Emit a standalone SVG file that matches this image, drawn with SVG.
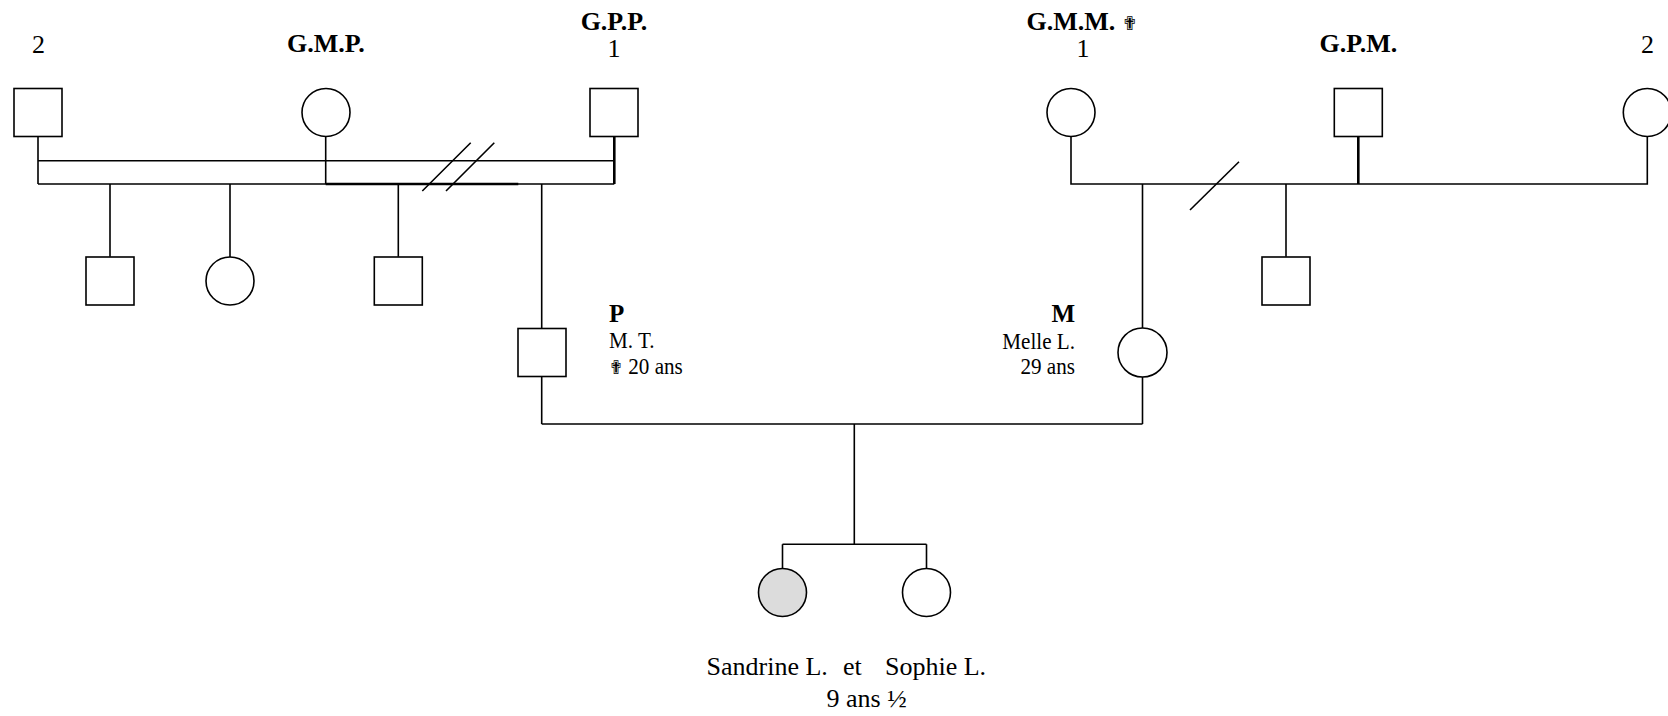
<svg xmlns="http://www.w3.org/2000/svg" width="1668" height="716" viewBox="0 0 1668 716">
<style>
.shape{fill:#ffffff;stroke:#000;stroke-width:1.6}
.affected{fill:#dcdcdc;stroke:#000;stroke-width:1.6}
.ln{stroke:#000;stroke-width:1.6;fill:none}
.thick{stroke:#000;stroke-width:2.6;fill:none}
.t{font-family:"Liberation Serif","Times New Roman",serif;fill:#000}
.b{font-weight:bold;font-size:26px}
.s{font-size:24px}
.num{font-size:26px}
.big{font-size:26px}
.cross{font-family:"DejaVu Sans",sans-serif;font-size:19px}
</style>
<rect width="1668" height="716" fill="#ffffff"/>
<g id="connectors">
  <path class="ln" d="M38 136.5 V184 M38 160.7 H614.3 M38 184 H614.3"/>
  <path class="ln" d="M325.7 136.5 V184"/>
  <path class="thick" d="M325.7 184 H518.3"/>
  <path class="thick" d="M614.3 136.5 V184"/>
  <path class="ln" d="M422.3 191 L470.7 142.7 M446 191 L494.3 142.7"/>
  <path class="ln" d="M110 184 V256.7 M230 184 V257 M398.3 184 V256.7"/>
  <path class="ln" d="M541.7 184 V328.5 M541.7 376.7 V424"/>
  <path class="ln" d="M1071 136.5 V184 H1647.3 V136.5"/>
  <path class="thick" d="M1358.3 136.5 V184"/>
  <path class="ln" d="M1190 210 L1239 161.7"/>
  <path class="ln" d="M1286 184 V256.7"/>
  <path class="ln" d="M1142.5 184 V328 M1142.5 377 V424"/>
  <path class="ln" d="M541.7 424 H1142.5 M854.3 424 V544.3 M782.5 544.3 H926.5 M782.5 544.3 V568.5 M926.5 544.3 V568.5"/>
</g>
<g id="node-left-2"><rect class="shape" x="14" y="88.5" width="48" height="48"/><text class="t num" x="38.5" y="52.5" text-anchor="middle">2</text></g>
<g id="node-gmp"><circle class="shape" cx="326" cy="112.5" r="24"/><text class="t b" x="326" y="52" text-anchor="middle">G.M.P.</text></g>
<g id="node-gpp"><rect class="shape" x="590" y="88.5" width="48" height="48"/><text class="t b" x="614" y="29.5" text-anchor="middle">G.P.P.</text><text class="t num" x="614" y="57.3" text-anchor="middle">1</text></g>
<g id="node-child-p1"><rect class="shape" x="86" y="257" width="48" height="48"/></g>
<g id="node-child-p2"><circle class="shape" cx="230" cy="281" r="24"/></g>
<g id="node-child-p3"><rect class="shape" x="374.3" y="257" width="48" height="48"/></g>
<g id="node-p"><rect class="shape" x="518" y="328.5" width="48" height="48"/>
  <text class="t" x="609" y="321.5" font-size="25" font-weight="bold">P</text>
  <text class="t s" transform="translate(609,348) scale(0.88,1)">M. T.</text>
  <text class="t s" transform="translate(609,374) scale(0.88,1)"><tspan class="cross">✟</tspan> 20 ans</text>
</g>
<g id="node-gmm"><circle class="shape" cx="1071" cy="112.5" r="24"/><text class="t b" x="1026.5" y="29.5">G.M.M. <tspan class="cross">✟</tspan></text><text class="t num" x="1083" y="57.3" text-anchor="middle">1</text></g>
<g id="node-gpm"><rect class="shape" x="1334.3" y="88.5" width="48" height="48"/><text class="t b" x="1358.5" y="52" text-anchor="middle">G.P.M.</text></g>
<g id="node-right-2"><circle class="shape" cx="1647.3" cy="112.5" r="24"/><text class="t num" x="1647.5" y="53" text-anchor="middle">2</text></g>
<g id="node-child-m1"><rect class="shape" x="1262" y="257" width="48" height="48"/></g>
<g id="node-m"><ellipse class="shape" cx="1142.5" cy="352.5" rx="24.5" ry="24.5"/>
  <text class="t" x="1075" y="321.5" font-size="25" font-weight="bold" text-anchor="end">M</text>
  <text class="t s" transform="translate(1075,348.5) scale(0.88,1)" text-anchor="end">Melle L.</text>
  <text class="t s" transform="translate(1075,374) scale(0.88,1)" text-anchor="end">29 ans</text>
</g>
<g id="node-sandrine"><circle class="affected" cx="782.5" cy="592.5" r="24"/></g>
<g id="node-sophie"><circle class="shape" cx="926.5" cy="592.5" r="24"/></g>
<g id="twins-label">
  <text class="t big" y="675"><tspan x="706.5">Sandrine L.</tspan><tspan x="843">et</tspan><tspan x="885">Sophie L.</tspan></text>
  <text class="t big" x="826.5" y="706.5">9 ans ½</text>
</g>
</svg>
